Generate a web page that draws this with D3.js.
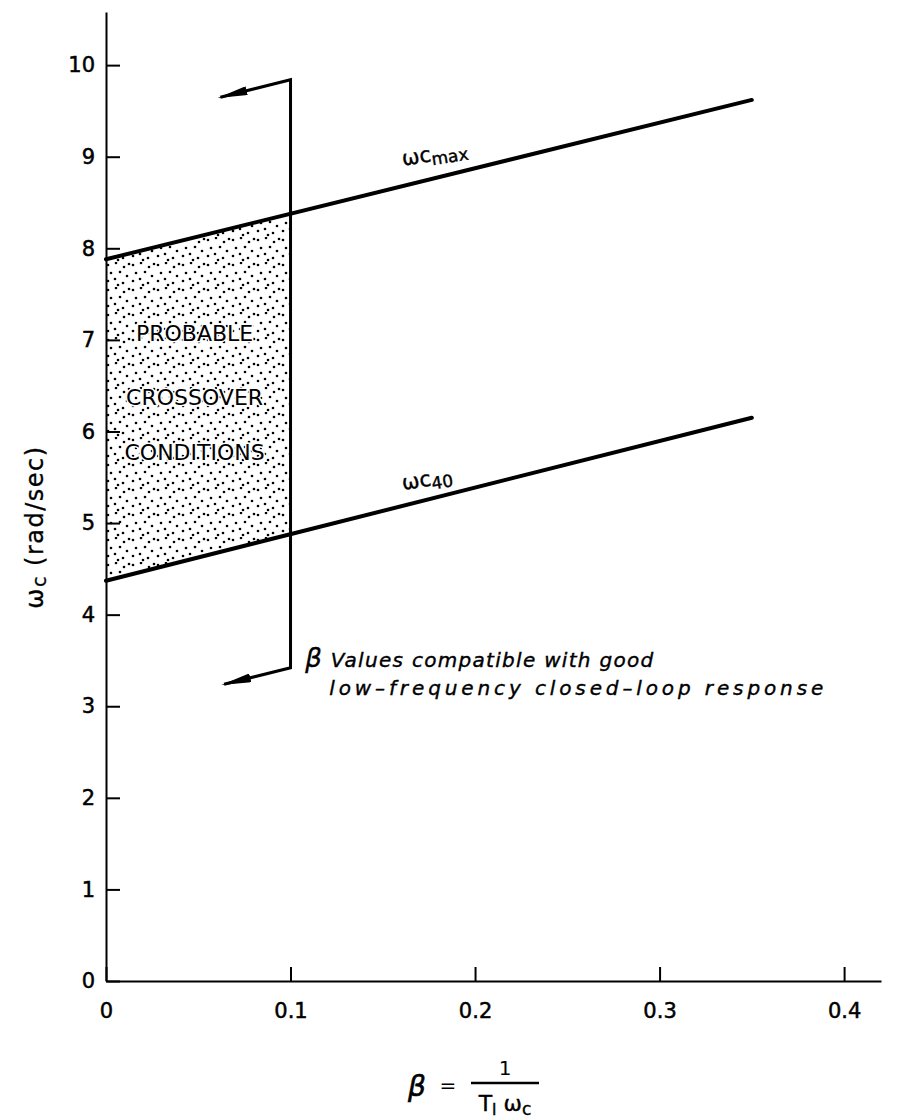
<!DOCTYPE html>
<html>
<head>
<meta charset="utf-8">
<script src="https://cdn.jsdelivr.net/npm/d3@7"></script>
<style>
  body { margin: 0; background: #fff; }
  svg { display: block; font-family: "DejaVu Sans", "Liberation Sans", sans-serif; }
  .axis path, .axis line { stroke: #000; stroke-width: 2; }
</style>
</head>
<body>
<div id="chart"></div>
<script>
// tick values
var betaTicks = [0, 0.1, 0.2, 0.3, 0.4];
var wcTicks = [0, 1, 2, 3, 4, 5, 6, 7, 8, 9, 10];

// crossover limit lines (beta, wc)
var wcMaxLine = [{beta: 0, wc: 7.88}, {beta: 0.35, wc: 9.62}];
var wc40Line = [{beta: 0, wc: 4.37}, {beta: 0.35, wc: 6.15}];

// shaded region edges, beta from 0 to 0.1
var regionTop = [{beta: 0, wc: 7.88}, {beta: 0.1, wc: 8.38}];
var regionBottom = [{beta: 0, wc: 4.37}, {beta: 0.1, wc: 4.88}];

// beta limit bracket with arrows at both ends
var betaBracket = [
  {beta: 0.062, wc: 9.65},
  {beta: 0.1, wc: 9.84},
  {beta: 0.1, wc: 3.42},
  {beta: 0.064, wc: 3.24}
];

var margin = {top: 12, right: 33, bottom: 139, left: 106},
    width = 914 - margin.left - margin.right,
    height = 1120 - margin.top - margin.bottom;

var x = d3.scaleLinear().domain([0, 0.42]).range([0, width]);
var y = d3.scaleLinear().domain([0, 10.58]).range([height, 0]);

var svg = d3.select("#chart").append("svg")
    .attr("width", width + margin.left + margin.right)
    .attr("height", height + margin.top + margin.bottom);

var defs = svg.append("defs");

// stipple pattern for the shaded area
var dots = [[2,3],[10,1],[18,5],[5,11],[14,10],[21,14],[2,19],[9,17],[17,21],[12,23],[23,2]];
var pat = defs.append("pattern")
    .attr("id", "stipple")
    .attr("patternUnits", "userSpaceOnUse")
    .attr("width", 25).attr("height", 25);
pat.selectAll("circle").data(dots).enter().append("circle")
    .attr("cx", function(d) { return d[0]; })
    .attr("cy", function(d) { return d[1]; })
    .attr("r", 1.3)
    .attr("fill", "#000");

defs.append("marker")
    .attr("id", "arrow")
    .attr("viewBox", "0 0 10 10")
    .attr("preserveAspectRatio", "none")
    .attr("refX", 9).attr("refY", 5)
    .attr("markerWidth", 10).attr("markerHeight", 3)
    .attr("markerUnits", "strokeWidth")
    .attr("orient", "auto-start-reverse")
  .append("path")
    .attr("d", "M0,0 L10,5 L0,10 Z")
    .attr("fill", "#000");

var g = svg.append("g")
    .attr("transform", "translate(" + margin.left + "," + margin.top + ")");

// shaded region
var area = d3.area()
    .x(function(d) { return x(d.beta); })
    .y0(function(d, i) { return y(regionBottom[i].wc); })
    .y1(function(d) { return y(d.wc); });

g.append("path")
    .datum(regionTop)
    .attr("d", area)
    .attr("fill", "url(#stipple)");

// axes
var xAxis = g.append("g")
    .attr("class", "axis")
    .attr("transform", "translate(0," + height + ")")
    .call(d3.axisBottom(x).tickValues(betaTicks).tickSize(-14).tickSizeOuter(0).tickPadding(22)
      .tickFormat(function(d) { return d === 0 ? "0" : d3.format(".1f")(d); }));

var yAxis = g.append("g")
    .attr("class", "axis")
    .call(d3.axisLeft(y).tickValues(wcTicks).tickSize(-14).tickSizeOuter(0).tickPadding(11)
      .tickFormat(d3.format("d")));

[xAxis, yAxis].forEach(function(a) {
  a.attr("font-family", null).attr("font-size", null);
  a.selectAll("text")
      .attr("font-size", 21)
      .attr("fill", "#000")
      .attr("stroke", "#000")
      .attr("stroke-width", 0.5);
});

// limit lines
var line = d3.line()
    .x(function(d) { return x(d.beta); })
    .y(function(d) { return y(d.wc); });

[wcMaxLine, wc40Line].forEach(function(data) {
  g.append("path")
      .datum(data)
      .attr("d", line)
      .attr("fill", "none")
      .attr("stroke", "#000")
      .attr("stroke-width", 4)
      .attr("stroke-linecap", "round");
});

// bracket at beta = 0.1
g.append("path")
    .datum(betaBracket)
    .attr("d", line)
    .attr("fill", "none")
    .attr("stroke", "#000")
    .attr("stroke-width", 3)
    .attr("marker-start", "url(#arrow)")
    .attr("marker-end", "url(#arrow)");

// line labels
function lineLabel(xv, yv, sub) {
  var t = g.append("text")
      .attr("x", x(xv)).attr("y", y(yv))
      .attr("font-size", 21)
      .attr("stroke", "#000").attr("stroke-width", 0.4)
      .attr("transform", "rotate(-9," + x(xv) + "," + y(yv) + ")");
  t.append("tspan").text("ωc");
  t.append("tspan").attr("dy", 4).attr("font-size", 17).text(sub);
}
lineLabel(0.161, 8.9, "max");
lineLabel(0.161, 5.36, "40");

// region text
var regionText = [
  {t: "PROBABLE", wc: 7.07},
  {t: "CROSSOVER", wc: 6.38},
  {t: "CONDITIONS", wc: 5.78}
];
g.selectAll(".region-label").data(regionText).enter().append("text")
    .attr("class", "region-label")
    .attr("x", x(0.048))
    .attr("y", function(d) { return y(d.wc) + 8; })
    .attr("text-anchor", "middle")
    .attr("font-size", 22)
    .attr("fill", "#000")
    .attr("stroke", "#fff").attr("stroke-width", 3).attr("paint-order", "stroke")
    .text(function(d) { return d.t; });

// annotation
var note = g.append("text")
    .attr("x", x(0.108)).attr("y", y(3.43))
    .attr("font-size", 20)
    .attr("font-style", "italic")
    .attr("stroke", "#000").attr("stroke-width", 0.4)
    .attr("textLength", 348)
    .attr("lengthAdjust", "spacing");
note.append("tspan").attr("font-size", 26).text("β");
note.append("tspan").text(" Values compatible with good");
g.append("text")
    .attr("x", x(0.121)).attr("y", y(3.12))
    .attr("font-size", 20)
    .attr("font-style", "italic")
    .attr("stroke", "#000").attr("stroke-width", 0.4)
    .attr("textLength", 494)
    .attr("lengthAdjust", "spacing")
    .text("low–frequency closed–loop response");

// y axis label
var yl = svg.append("text")
    .attr("transform", "translate(43,527) rotate(-90)")
    .attr("text-anchor", "middle")
    .attr("font-size", 24)
    .attr("letter-spacing", 1.5)
    .attr("stroke", "#000").attr("stroke-width", 0.3);
yl.append("tspan").text("ω");
yl.append("tspan").attr("font-size", 19).attr("dy", 3).text("c");
yl.append("tspan").attr("dy", -3).text("  (rad/sec)");

// x axis label: beta = 1 / (T_I w_c)
var xl = svg.append("g");
xl.append("text").attr("x", 417).attr("y", 1096).attr("text-anchor", "middle")
    .attr("font-size", 28).attr("font-style", "italic")
    .attr("stroke", "#000").attr("stroke-width", 0.6).text("β");
xl.append("text").attr("x", 448).attr("y", 1092).attr("text-anchor", "middle")
    .attr("font-size", 20).text("=");
xl.append("line").attr("x1", 471).attr("x2", 539).attr("y1", 1083).attr("y2", 1083)
    .attr("stroke", "#000").attr("stroke-width", 2.5);
xl.append("text").attr("x", 505).attr("y", 1075).attr("text-anchor", "middle")
    .attr("font-size", 20).text("1");
var den = xl.append("text").attr("x", 505).attr("y", 1111).attr("text-anchor", "middle")
    .attr("font-size", 22)
    .attr("stroke", "#000").attr("stroke-width", 0.4);
den.append("tspan").text("T");
den.append("tspan").attr("font-size", 15).attr("dy", 4).text("I");
den.append("tspan").attr("dy", -4).text(" ω");
den.append("tspan").attr("font-size", 17).attr("dy", 4).text("c");
</script>
</body>
</html>
